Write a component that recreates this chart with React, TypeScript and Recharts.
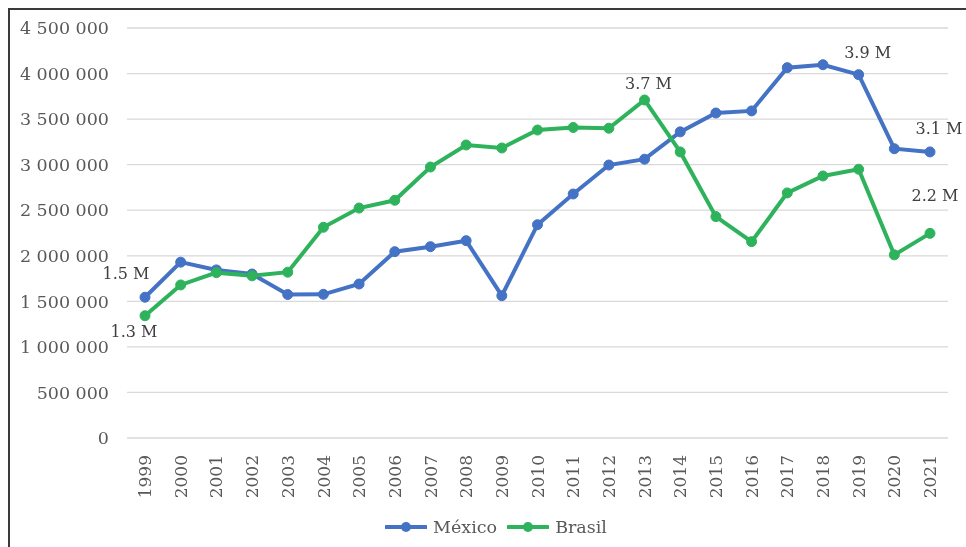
import React from 'react';
import {
    LineChart,
    Line,
    XAxis,
    YAxis,
    CartesianGrid,
    Legend,
} from 'recharts';

const years = [
    '1999', '2000', '2001', '2002', '2003', '2004', '2005', '2006', '2007', '2008', '2009', '2010',
    '2011', '2012', '2013', '2014', '2015', '2016', '2017', '2018', '2019', '2020', '2021',
];

const mexico = [
    1545000, 1930000, 1845000, 1800000, 1575000, 1577000, 1690000, 2045000, 2100000, 2166000, 1562000, 2341000,
    2678000, 2996000, 3060000, 3360000, 3567000, 3590000, 4065000, 4097000, 3988000, 3175000, 3140000,
];

const brasil = [
    1342000, 1680000, 1815000, 1780000, 1820000, 2313000, 2524000, 2609000, 2974000, 3216000, 3183000, 3380000,
    3408000, 3400000, 3710000, 3140000, 2430000, 2155000, 2690000, 2876000, 2950000, 2010000, 2246000,
];

// labels shown on a few points only
const mexicoLabels: Record<number, string> = { 0: '1.5 M', 20: '3.9 M', 22: '3.1 M' };
const brasilLabels: Record<number, string> = { 0: '1.3 M', 14: '3.7 M', 22: '2.2 M' };

const yTicks = [0, 500000, 1000000, 1500000, 2000000, 2500000, 3000000, 3500000, 4000000, 4500000];

const BLUE = '#4472C4';
const GREEN = '#2EB35C';
const FONT = '"DejaVu Serif", serif';

const data = years.map((year, i) => ({ year, mexico: mexico[i], brasil: brasil[i] }));

const fmt = (v: number) => String(v).replace(/\B(?=(\d{3})+(?!\d))/g, ' ');

// offsets of each label from its point: [dx to text centre, dy to baseline]
const mexicoPlace: Record<number, [number, number]> = { 0: [-19, -18], 20: [9, -17], 22: [9, -18] };
const brasilPlace: Record<number, [number, number]> = { 0: [-11, 21], 14: [4, -11], 22: [5, -32] };

const makeLabel = (texts: Record<number, string>, place: Record<number, [number, number]>) =>
    (props: any) => {
        const { x, y, index } = props;
        const t = texts[index];
        if (!t) return null;
        const [dx, dy] = place[index];
        return (
            <text key={index} x={x + dx} y={y + dy} textAnchor="middle" fill="#404040"
                style={{ fontFamily: FONT, fontSize: 16 }}>
                {t}
            </text>
        );
    };

const YearTick = (props: any) => {
    const { x, y, payload } = props;
    const ty = y + 9;
    return (
        <text x={x} y={ty} transform={`rotate(-90, ${x}, ${ty})`} textAnchor="end" dy="0.36em"
            fill="#595959" style={{ fontFamily: FONT, fontSize: 17 }}>
            {payload.value}
        </text>
    );
};

const LegendContent = () => {
    const items = [
        { name: 'México', color: BLUE },
        { name: 'Brasil', color: GREEN },
    ];
    return (
        <div style={{ display: 'flex', justifyContent: 'center', paddingLeft: 44, paddingTop: 7, fontFamily: FONT, fontSize: 17.5, color: '#595959' }}>
            {items.map(it => (
                <div key={it.name} style={{ display: 'flex', alignItems: 'center', marginRight: 10 }}>
                    <svg width={42} height={12} style={{ marginRight: 6 }}>
                        <line x1={1} y1={6} x2={41} y2={6} stroke={it.color} strokeWidth={4} strokeLinecap="round" />
                        <circle cx={21} cy={6} r={5} fill={it.color} />
                    </svg>
                    <span>{it.name}</span>
                </div>
            ))}
        </div>
    );
};

export default function App() {
    return (
        <div style={{
            position: 'fixed', top: 8, left: 8, width: 956, height: 537,
            borderTop: '2px solid #3a3a3a', borderLeft: '2px solid #3a3a3a', overflow: 'hidden',
        }}>
            <LineChart width={956} height={537} data={data} margin={{ top: 18, right: 18, left: 0, bottom: 7 }}>
                <CartesianGrid vertical={false} stroke="#d9d9d9" strokeWidth={1.3} />
                <XAxis
                    dataKey="year"
                    interval={0}
                    height={72}
                    axisLine={false}
                    tickLine={false}
                    padding={{ left: 18, right: 18 }}
                    tick={<YearTick />}
                />
                <YAxis
                    width={117}
                    domain={[0, 4500000]}
                    ticks={yTicks}
                    interval={0}
                    axisLine={false}
                    tickLine={false}
                    tickMargin={12}
                    tickFormatter={fmt}
                    tick={{ fill: '#595959', fontFamily: FONT, fontSize: 17.5 }}
                />
                <Legend verticalAlign="bottom" height={30} content={<LegendContent />} />
                <Line
                    dataKey="mexico"
                    name="México"
                    stroke={BLUE}
                    strokeWidth={4}
                    dot={{ r: 5, fill: BLUE, stroke: BLUE, strokeWidth: 1 }}
                    activeDot={false}
                    isAnimationActive={false}
                    label={makeLabel(mexicoLabels, mexicoPlace)}
                />
                <Line
                    dataKey="brasil"
                    name="Brasil"
                    stroke={GREEN}
                    strokeWidth={4}
                    dot={{ r: 5, fill: GREEN, stroke: GREEN, strokeWidth: 1 }}
                    activeDot={false}
                    isAnimationActive={false}
                    label={makeLabel(brasilLabels, brasilPlace)}
                />
            </LineChart>
        </div>
    );
}
